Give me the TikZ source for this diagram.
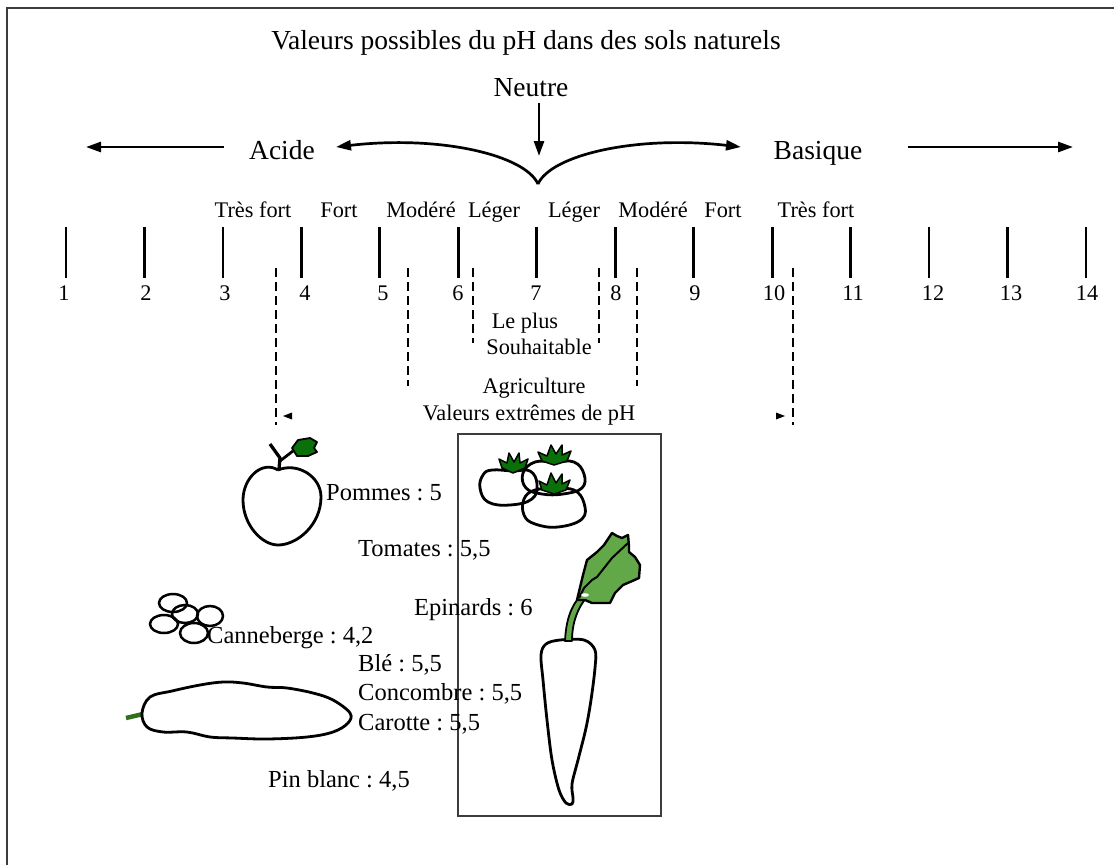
\documentclass[tikz,border=0pt]{standalone}
\usepackage{fontspec}
\setmainfont{Liberation Serif}
\usetikzlibrary{arrows.meta}
\definecolor{leafdark}{RGB}{10,112,10}
\definecolor{leaflight}{RGB}{98,168,72}
\definecolor{stemgreen}{RGB}{50,110,30}
\definecolor{framegray}{RGB}{60,60,60}
\frenchspacing
\begin{document}
\begin{tikzpicture}[x=1pt,y=-1pt,
  big/.style={font=\fontsize{27.5}{32}\selectfont, inner sep=0pt, anchor=base},
  small/.style={font=\fontsize{22.3}{26}\selectfont, inner sep=0pt, anchor=base},
  food/.style={font=\fontsize{24.5}{29}\selectfont, inner sep=0pt, anchor=base west},
  arr/.style={line width=2.7pt, -{Triangle[length=15pt,width=10pt]}},
  tickline/.style={line width=2.8pt},
  dashline/.style={line width=2.8pt, dash pattern=on 9pt off 5pt},
  outline/.style={line width=2.8pt, line join=round},
  crown/.style={fill=leafdark, draw=black, line width=1.5pt, line join=round},
]
\useasboundingbox (0,0) rectangle (1114,865);
\fill[white] (0,0) rectangle (1114,865);

% outer frame
\draw[framegray, line width=2pt] (7,865) -- (7,8) -- (1114,8);

% headings
\node[big] (title) at (526,49) {Valeurs possibles du pH dans des sols naturels};
\node[big] (neutre) at (531,96) {Neutre};
\node[big] (acide) at (282,159) {Acide};
\node[big] (basique) at (818,159) {Basique};

% neutral point and the two branches of the brace
\coordinate (cusp) at (538,184);
\coordinate (neutreTip) at (539,156);
\coordinate (acideTip) at (336,147);
\coordinate (basiqueTip) at (741,147);
\draw[arr] (neutreTip |- 0,103) -- (neutreTip);
\draw[arr] (cusp) .. controls (525,155) and (440,135) .. (acideTip);
\draw[arr] (cusp) .. controls (551,155) and (636,135) .. (basiqueTip);

% outer arrows
\coordinate (acideFar) at (86,147);
\coordinate (basiqueFar) at (1073,147);
\draw[arr] (acide.west |- 0,147) ++(-25,0) -- (acideFar);
\draw[arr] (basique.east |- 0,147) ++(45,0) -- (basiqueFar);

% strength labels
\foreach \t/\x [count=\k] in {Très fort/253, Fort/339, Modéré/421, Léger/494,
                             Léger/574, Modéré/653, Fort/723, Très fort/816}
  \node[small] (force\k) at (\x,217) {\t};

% scale ticks and numbers
\foreach \i/\lx in {1/64, 2/146, 3/225, 4/305, 5/383, 6/458, 7/536,
                    8/616, 9/695, 10/774, 11/853, 12/933, 13/1011, 14/1087} {
  \pgfmathsetmacro{\tx}{66+78.46*(\i-1)}
  \draw[tickline] (\tx,227) -- (\tx,278);
  \node[small] (num\i) at (\lx,300.5) {\i};
}

% ranges
\draw[dashline] (276,268) -- (276,425);
\draw[dashline] (793,268) -- (793,425);
\draw[dashline] (408,268) -- (408,386);
\draw[dashline] (637,268) -- (637,386);
\draw[dashline] (473,268) -- (473,343);
\draw[dashline] (599,268) -- (599,343);
\fill (283,416) -- (292,412.5) -- (292,419.5) -- cycle;
\fill (785,416) -- (776,412.5) -- (776,419.5) -- cycle;

\node[small] (leplus) at (525,328.5) {Le plus};
\node[small] (souhait) at (539,354.5) {Souhaitable};
\node[small] (agri) at (534,393.5) {Agriculture};
\node[small] (extremes) at (529,420.5) {Valeurs extrêmes de pH};

% framed vegetables
\draw[framegray, line width=2pt] (458,434) rectangle (661,816);

% food labels
\node[food] (pommes) at (326,500.5) {Pommes : 5};
\node[food] (tomates) at (358,556.5) {Tomates : 5,5};
\node[food] (epinards) at (414,615.5) {Epinards : 6};
\node[food] (canne) at (207,643.5) {Canneberge : 4,2};
\node[food] (ble) at (358,671.5) {Blé : 5,5};
\node[food] (concombre) at (358,700.5) {Concombre : 5,5};
\node[food] (carotte) at (358,730.5) {Carotte : 5,5};
\node[food] (pin) at (268,787.5) {Pin blanc : 4,5};

% apple
\draw[outline] (278,470) .. controls (262,460) and (243,478) .. (243,500)
  .. controls (243,525) and (262,545) .. (278,545)
  .. controls (297,545) and (321,525) .. (321,497)
  .. controls (321,476) and (297,462) .. (278,470);
\draw[line width=3.3pt] (270,444) -- (280,458) -- (279,469);
\draw[line width=2.8pt] (280,461) -- (293,451);
\draw[fill=leafdark, line width=1.8pt, line join=round]
  (292,448) -- (298,440) -- (310,438) -- (317,442) -- (314,448) -- (317,452)
  -- (308,456) -- (297,456) -- cycle;

% tomatoes
\draw[outline] plot[smooth cycle, tension=0.7] coordinates {
  (492,470) (513,471) (530,471) (537,484) (532,499) (510,505) (488,502) (480,488) (483,475)};
\draw[outline] plot[smooth cycle, tension=0.7] coordinates {
  (535,462) (555,462) (574,462) (584,474) (582,488) (563,494) (542,494) (526,488) (523,473)};
\draw[outline] plot[smooth cycle, tension=0.7] coordinates {
  (535,490) (555,489) (574,490) (584,503) (582,519) (558,527) (535,524) (524,515) (524,499)};
\draw[crown] (502,468) -- (499,459) -- (507,463) -- (509,453) -- (514,462) -- (519,453)
  -- (520,463) -- (528,459) -- (525,468) -- (513,473) -- cycle;
\draw[crown] (542,461) -- (538,452) -- (547,456) -- (551,445) -- (556,454) -- (562,445)
  -- (562,455) -- (571,451) -- (567,461) -- (554,465) -- cycle;
\draw[crown] (542,490) -- (539,481) -- (547,485) -- (551,473) -- (556,483) -- (562,474)
  -- (562,484) -- (570,480) -- (566,490) -- (554,494) -- cycle;

% carrot: root, stalk and leaf
\draw[outline, fill=white] plot[smooth cycle, tension=0.55] coordinates {
  (560,640) (584,640) (595,650) (595,668) (591,700) (586,728) (578,760)
  (572,784) (573,798) (572,804) (566,803) (559,790) (552,760) (547,720)
  (543,680) (541,655) (546,644)};
\draw[fill=leaflight, line width=1.8pt, line join=round]
  (565,641) .. controls (566,620) and (571,606) .. (581,595) -- (586,598)
  .. controls (578,608) and (572,622) .. (572,641) -- cycle;
\draw[fill=leaflight, line width=2.4pt, line join=round]
  (577,600) -- (583,575) -- (587,560) -- (597,552) -- (604,545) -- (612,533)
  -- (617,536) -- (622,538) -- (628,535) -- (629,546) -- (629,552) -- (635,557)
  -- (640,565) -- (639,578) -- (630,582) -- (623,585) -- (615,593) -- (610,603)
  -- (600,603) -- (592,603) -- (585,600) -- cycle;
\draw[line width=2pt, line join=round]
  (579,598) -- (584,588) -- (592,580) -- (597,577) -- (612,558) -- (628,543);
\draw[white, fill=white] (585,595) ellipse [x radius=3.5, y radius=1.5];

% cranberries
\foreach \cx/\cy/\rx/\ry in {173/603/14/9, 185/614/13/9, 164/624/14/9,
                             210/616/13/10, 194/633/14/10}
  \draw[line width=2.5pt] (\cx,\cy) ellipse [x radius=\rx, y radius=\ry];

% cucumber
\draw[stemgreen, line width=4.5pt] (126,718) -- (143,714);
\draw[outline] plot[smooth cycle, tension=0.6] coordinates {
  (142,713) (150,697) (172,691) (200,685) (223,682) (243,683) (267,687)
  (287,688) (313,693) (333,700) (350,713) (348,723) (333,732) (307,737)
  (267,739) (233,738) (210,737) (187,732) (163,732) (147,727)};
\end{tikzpicture}
\end{document}
